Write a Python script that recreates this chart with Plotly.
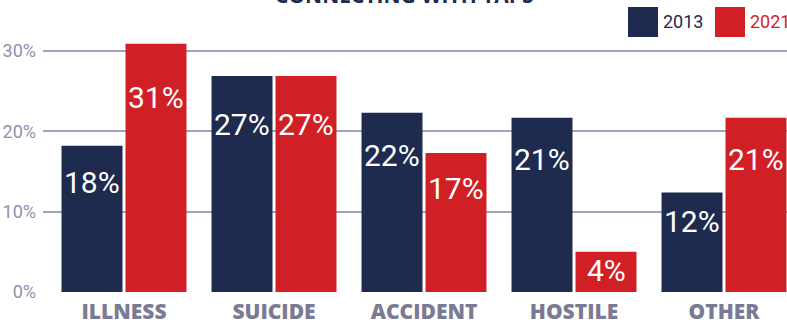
import plotly.graph_objects as go

categories = ["ILLNESS", "SUICIDE", "ACCIDENT", "HOSTILE", "OTHER"]
values_2013 = [18.2, 26.9, 22.3, 21.7, 12.4]
values_2021 = [30.9, 26.9, 17.3, 5.0, 21.7]
labels_2013 = ["18%", "27%", "22%", "21%", "12%"]
labels_2021 = ["31%", "27%", "17%", "4%", "21%"]
series_names = ["2013", "2021"]
tick_vals = [0, 10, 20, 30]
tick_text = ["0%", "10%", "20%", "30%"]
title_text = "CONNECTING WITH TAPS"

NAVY = "#1f2a4f"
RED = "#d11f26"
GRID = "#a0a5ba"
LABEL_FONT = "Roboto, sans-serif"

W, H = 787, 322
ML, MR, MT, MB = 43, 0, 20, 30
YMAX = 33.86
px_per_unit = (H - MT - MB) / YMAX

fig = go.Figure()
fig.add_bar(x=categories, y=values_2013, name=series_names[0], marker_color=NAVY,
            marker_line_width=0, hoverinfo="skip")
fig.add_bar(x=categories, y=values_2021, name=series_names[1], marker_color=RED,
            marker_line_width=0, hoverinfo="skip")

annotations = []
for vals, labs, xs in ((values_2013, labels_2013, -32), (values_2021, labels_2021, 32)):
    for c, v, t in zip(categories, vals, labs):
        bar_px = v * px_per_unit
        centre = 12 + 0.17 * bar_px
        annotations.append(dict(
            x=c, y=v, xref="x", yref="y", text=t, showarrow=False,
            xshift=xs, yshift=-centre, yanchor="middle", xanchor="center",
            font=dict(family=LABEL_FONT, size=30, color="white"),
        ))


def px_x(p):
    return (p - ML) / (W - ML - MR)


def px_y(p):
    return (H - MB - p) / (H - MT - MB)


# title (cut off at the top edge, as in the reference)
annotations.append(dict(
    x=px_x(404), y=px_y(11), xref="paper", yref="paper",
    text="<b>" + title_text + "</b>", showarrow=False, xanchor="center", yanchor="bottom",
    font=dict(family="Open Sans", size=21, color=NAVY, weight=800),
))

# custom legend (large square swatches)
shapes = []
legend_items = [(series_names[0], NAVY, 628), (series_names[1], RED, 715)]
for name, col, x0 in legend_items:
    shapes.append(dict(type="rect", xref="paper", yref="paper",
                       x0=px_x(x0), x1=px_x(x0 + 30), y0=px_y(37), y1=px_y(7),
                       fillcolor=col, line_width=0, layer="above"))
    annotations.append(dict(x=px_x(x0 + 33), y=px_y(22), xref="paper", yref="paper",
                            text=name, showarrow=False, xanchor="left", yanchor="middle",
                            font=dict(family=LABEL_FONT, size=18, color=col)))

fig.update_layout(
    width=W, height=H,
    margin=dict(l=ML, r=MR, t=MT, b=MB, pad=0, autoexpand=False),
    paper_bgcolor="white", plot_bgcolor="white",
    barmode="group", bargap=0.147, bargroupgap=0.047,
    showlegend=False,
    annotations=annotations,
    shapes=shapes,
    xaxis=dict(range=[-0.54, 4.42], showgrid=False, zeroline=False, showline=False,
               ticks="", ticklabelstandoff=5, automargin=False,
               tickfont=dict(family="Open Sans", size=21, color="#7b7a94", weight=800)),
    yaxis=dict(range=[0, YMAX], tickvals=tick_vals, ticktext=tick_text,
               showgrid=True, gridcolor=GRID, gridwidth=2, zeroline=False, showline=False,
               ticks="", ticklabelstandoff=6, automargin=False,
               tickfont=dict(family=LABEL_FONT, size=18, color="#8d92aa")),
)

fig.write_html("out.html", config={"displayModeBar": False},
               post_script="document.body.style.margin='0';")
